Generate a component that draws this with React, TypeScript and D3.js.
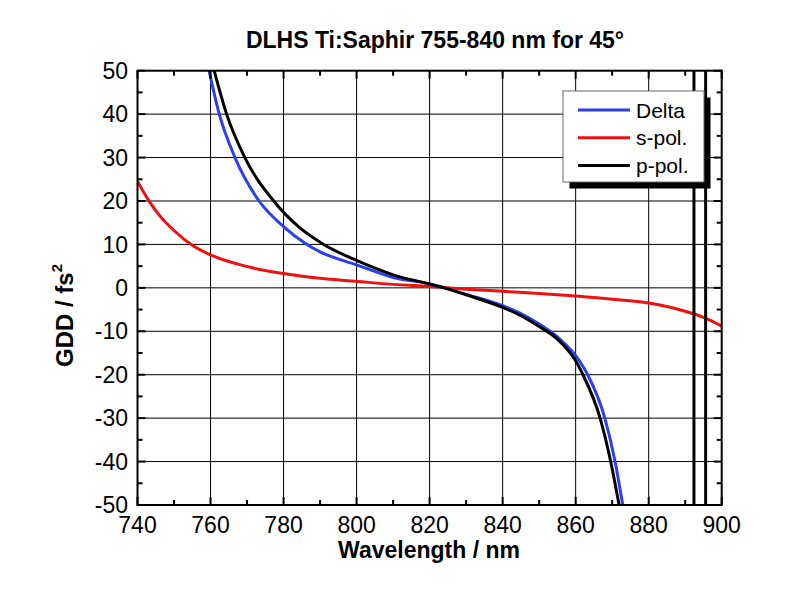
import React, { useRef, useEffect } from "react";
import * as d3 from "d3";

// Wavelength (nm) / GDD (fs^2) readings for each curve
const deltaWl = [759.6, 762.4, 766.7, 773.3, 780, 786.4, 790, 800, 810, 820, 824, 830, 840, 845, 850, 855, 860, 863.3, 868, 870.8, 872.9];
const deltaGdd = [50, 40, 30, 20, 14.1, 10, 8.3, 5.3, 2.4, 0.9, 0, -1.5, -4.1, -5.9, -8.3, -11.3, -15.6, -20, -30, -40, -50];

const sPolWl = [740, 743, 746, 750, 755, 760, 770, 780, 790, 800, 810, 820, 830, 840, 850, 860, 870, 880, 885, 890, 895, 900];
const sPolGdd = [24.5, 20.2, 16.7, 13.2, 9.8, 7.6, 4.9, 3.3, 2.2, 1.5, 0.8, 0.3, -0.3, -0.8, -1.3, -1.9, -2.6, -3.5, -4.3, -5.4, -6.8, -8.8];

const pPolWl = [761, 764.4, 769.4, 777.3, 784.5, 791, 800, 810, 820, 824, 830, 840, 845, 850, 855, 860, 862, 866.7, 869.6, 871.9];
const pPolGdd = [50, 40, 30, 20, 13.8, 10, 6.3, 3.0, 0.9, 0, -1.6, -4.5, -6.4, -8.9, -11.8, -16.8, -20, -30, -40, -50];

// p-pol resonances (vertical lines)
const pPolPoles = [892.4, 895.6];

const seriesNames = ["Delta", "s-pol.", "p-pol."];
const seriesColors = ["#2a3ff0", "#f01010", "#000000"];

const xTicks = [740, 760, 780, 800, 820, 840, 860, 880, 900];
const xMinor = [750, 770, 790, 810, 830, 850, 870, 890];
const yTicks = [-50, -40, -30, -20, -10, 0, 10, 20, 30, 40, 50];
const yMinor = [-45, -35, -25, -15, -5, 5, 15, 25, 35, 45];

const FONT = "'Liberation Sans', Arial, Helvetica, sans-serif";

const App: React.FC = () => {
  const svgRef = useRef<SVGSVGElement>(null);

  useEffect(() => {
    if (!svgRef.current) return;
    const svg = d3.select(svgRef.current);
    svg.selectAll("*").remove();

    const left = 137.5;
    const right = 721.7;
    const top = 70.7;
    const bottom = 505;

    const x = d3.scaleLinear().domain([740, 900]).range([left, right]);
    const y = d3.scaleLinear().domain([-50, 50]).range([bottom, top]);

    svg
      .append("defs")
      .append("clipPath")
      .attr("id", "plot-clip")
      .append("rect")
      .attr("x", left)
      .attr("y", top)
      .attr("width", right - left)
      .attr("height", bottom - top);

    // Grid
    const grid = svg.append("g").attr("stroke", "#000").attr("stroke-width", 1);
    xTicks.slice(1, -1).forEach((t) => {
      grid.append("line").attr("x1", x(t)).attr("x2", x(t)).attr("y1", top).attr("y2", bottom);
    });
    yTicks.slice(1, -1).forEach((t) => {
      grid.append("line").attr("x1", left).attr("x2", right).attr("y1", y(t)).attr("y2", y(t));
    });

    // Curves
    const line = d3
      .line<[number, number]>()
      .x((d) => x(d[0]))
      .y((d) => y(d[1]))
      .curve(d3.curveMonotoneX);

    const series: [number, number][][] = [
      deltaWl.map((w, i) => [w, deltaGdd[i]]),
      sPolWl.map((w, i) => [w, sPolGdd[i]]),
      pPolWl.map((w, i) => [w, pPolGdd[i]]),
    ];

    const curves = svg.append("g").attr("clip-path", "url(#plot-clip)");
    [1, 0, 2].forEach((k) => {
      curves
        .append("path")
        .datum(series[k])
        .attr("fill", "none")
        .attr("stroke", seriesColors[k])
        .attr("stroke-width", 3)
        .attr("d", line);
    });
    pPolPoles.forEach((p) => {
      curves
        .append("line")
        .attr("x1", x(p))
        .attr("x2", x(p))
        .attr("y1", y(-50))
        .attr("y2", y(50))
        .attr("stroke", seriesColors[2])
        .attr("stroke-width", 3);
    });

    // Frame
    svg
      .append("rect")
      .attr("x", left)
      .attr("y", top)
      .attr("width", right - left)
      .attr("height", bottom - top)
      .attr("fill", "none")
      .attr("stroke", "#000")
      .attr("stroke-width", 2);

    // Ticks (inward, on all four sides)
    const ticks = svg.append("g").attr("stroke", "#000").attr("stroke-width", 2);
    const xt = (vals: number[], len: number) =>
      vals.forEach((t) => {
        ticks.append("line").attr("x1", x(t)).attr("x2", x(t)).attr("y1", bottom).attr("y2", bottom - len);
        ticks.append("line").attr("x1", x(t)).attr("x2", x(t)).attr("y1", top).attr("y2", top + len);
      });
    const yt = (vals: number[], len: number) =>
      vals.forEach((t) => {
        ticks.append("line").attr("x1", left).attr("x2", left + len).attr("y1", y(t)).attr("y2", y(t));
        ticks.append("line").attr("x1", right).attr("x2", right - len).attr("y1", y(t)).attr("y2", y(t));
      });
    xt(xTicks, 8);
    xt(xMinor, 5);
    yt(yTicks, 8);
    yt(yMinor, 5);

    // Tick labels
    const labels = svg.append("g").attr("font-family", FONT).attr("font-size", 23).attr("fill", "#000");
    xTicks.forEach((t) => {
      labels.append("text").attr("x", x(t)).attr("y", 533).attr("text-anchor", "middle").text(t);
    });
    yTicks.forEach((t) => {
      labels
        .append("text")
        .attr("x", 128)
        .attr("y", y(t) + 8.2)
        .attr("text-anchor", "end")
        .text(t);
    });

    // Titles
    svg
      .append("text")
      .attr("x", 435)
      .attr("y", 48)
      .attr("text-anchor", "middle")
      .attr("font-family", FONT)
      .attr("font-weight", "bold")
      .attr("font-size", 23)
      .text("DLHS Ti:Saphir 755-840 nm for 45°");

    svg
      .append("text")
      .attr("x", 429)
      .attr("y", 558)
      .attr("text-anchor", "middle")
      .attr("font-family", FONT)
      .attr("font-weight", "bold")
      .attr("font-size", 23)
      .text("Wavelength / nm");

    const yLabel = svg
      .append("text")
      .attr("transform", "translate(73,367) rotate(-90)")
      .attr("font-family", FONT)
      .attr("font-weight", "bold")
      .attr("font-size", 24);
    yLabel.append("tspan").text("GDD / fs");
    yLabel.append("tspan").attr("font-size", 15).attr("dy", -11).text("2");

    // Legend
    const lg = svg.append("g");
    const lx = 563;
    const ly = 91;
    const lw = 141;
    const lh = 91;
    lg.append("rect").attr("x", lx + 6.5).attr("y", ly + 6.5).attr("width", lw).attr("height", lh).attr("fill", "#000");
    lg.append("rect")
      .attr("x", lx)
      .attr("y", ly)
      .attr("width", lw)
      .attr("height", lh)
      .attr("fill", "#fff")
      .attr("stroke", "#666")
      .attr("stroke-width", 1);
    seriesNames.forEach((name, i) => {
      const cy = 110 + i * 27.8;
      lg.append("line")
        .attr("x1", 578)
        .attr("x2", 630)
        .attr("y1", cy)
        .attr("y2", cy)
        .attr("stroke", seriesColors[i])
        .attr("stroke-width", 3);
      lg.append("text")
        .attr("x", 636)
        .attr("y", cy + 7.5)
        .attr("font-family", FONT)
        .attr("font-size", 21)
        .text(name);
    });
  }, []);

  return (
    <svg
      ref={svgRef}
      width={800}
      height={600}
      style={{ position: "absolute", left: 0, top: 0, background: "#fff" }}
    />
  );
};

export default App;
